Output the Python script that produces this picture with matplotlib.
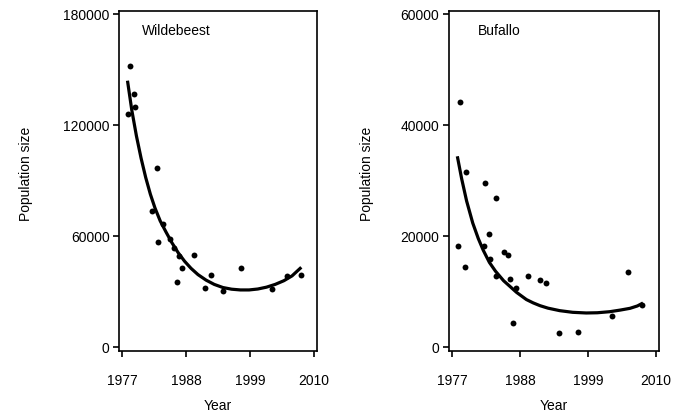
import matplotlib
matplotlib.use("Agg")
import matplotlib.pyplot as plt

plt.rcParams['font.family'] = ['Liberation Sans', 'DejaVu Sans']

# ---- data ----
wb_years = [1977.9, 1978.3, 1978.9, 1979.2, 1982.06, 1982.9, 1983.1, 1983.9, 1985.2,
            1985.95, 1986.4, 1986.8, 1987.2, 1989.3, 1991.2, 1992.2, 1994.3, 1997.4,
            2002.8, 2005.4, 2007.8]
wb_pop = [125900, 151700, 136900, 129500, 73580, 96500, 56480, 66380, 58270,
          53230, 34840, 49230, 42410, 49770, 31920, 38790, 30300, 42740,
          31220, 38410, 38790]
wb_fit_years = [1977.86, 1978.6, 1979.4, 1980.2, 1981.0, 1981.8, 1982.6, 1983.5,
                1984.5, 1985.5, 1986.6, 1987.7, 1988.8, 1990.0, 1991.4, 1992.8,
                1994.3, 1995.8, 1997.3, 1998.8, 2000.3, 2001.8, 2003.3, 2004.8,
                2006.2, 2007.8]
wb_fit_pop = [143900, 128000, 114000, 102000, 91500, 82500, 75000, 68000,
              62000, 56300, 50800, 46200, 42400, 39000, 36000, 33700,
              32000, 31100, 30700, 30700, 31200, 32200, 33700, 35700,
              38300, 42950]

bf_years = [1977.9, 1978.3, 1979.0, 1979.2, 1982.1, 1982.35, 1982.9, 1983.05, 1984.0,
            1984.0, 1985.3, 1986.0, 1986.3, 1986.8, 1987.3, 1989.3, 1991.2, 1992.1,
            1994.3, 1997.3, 2002.8, 2005.4, 2007.7]
bf_pop = [18210, 44180, 14320, 31450, 18210, 29520, 20320, 15810, 26870,
          12800, 17020, 16540, 12150, 4270, 10500, 12800, 12030, 11430,
          2400, 2700, 5590, 13530, 7570]
bf_fit_years = [1977.8, 1978.5, 1979.3, 1980.3, 1981.2, 1982.0, 1983.0, 1984.0,
                1985.3, 1987.4, 1989.0, 1990.1, 1991.2, 1992.5, 1994.4, 1996.5,
                1998.7, 2000.5, 2002.5, 2004.2, 2005.8, 2007.0, 2007.9]
bf_fit_pop = [34340, 30300, 26300, 22300, 19500, 17400, 15200, 13600,
              11900, 9800, 8500, 7900, 7400, 6950, 6500, 6200,
              6080, 6120, 6310, 6600, 6920, 7350, 7880]

x_ticks = [1977, 1988, 1999, 2010]
wb_yticks = [0, 60000, 120000, 180000]
bf_yticks = [0, 20000, 40000, 60000]

W, H = 674, 414
fig = plt.figure(figsize=(W / 100, H / 100), dpi=100)

def px_axes(x0, x1, ytop, ybot):
    return fig.add_axes([x0 / W, (H - ybot) / H, (x1 - x0) / W, (ybot - ytop) / H])

ax1 = px_axes(119.3, 316.7, 12.0, 351.7)
ax2 = px_axes(449.0, 658.7, 12.0, 351.7)

panels = [
    (ax1, wb_years, wb_pop, wb_fit_years, wb_fit_pop, wb_yticks, "Wildebeest", 0.114, 181600, -2170),
    (ax2, bf_years, bf_pop, bf_fit_years, bf_fit_pop, bf_yticks, "Bufallo", 0.14, 60540, -723),
]

for ax, xs, ys, fx, fy, yt, name, tx, ytop, ybot in panels:
    ax.scatter(xs, ys, s=18, color='black', zorder=3, linewidths=0)
    ax.plot(fx, fy, color='black', lw=2.3, solid_capstyle='butt', solid_joinstyle='round', zorder=2)
    ax.set_xlim(1976.45, 2010.45)
    ax.set_ylim(ybot, ytop)
    ax.set_xticks(x_ticks)
    ax.set_xticklabels([str(v) for v in x_ticks])
    ax.set_yticks(yt)
    ax.set_yticklabels([str(v) for v in yt])
    for sp in ax.spines.values():
        sp.set_linewidth(1.2)
        sp.set_color('black')
    ax.tick_params(axis='both', direction='out', length=4, width=1.2, labelsize=10, colors='black')
    ax.tick_params(axis='x', pad=12)
    ax.tick_params(axis='y', pad=3)
    ax.text(tx, 0.944, name, transform=ax.transAxes, ha='left', va='center', fontsize=10)

# axis labels placed at pixel positions
fig.text(26 / W, 1 - 173.5 / H, "Population size", rotation=90, ha='center', va='center', fontsize=10)
fig.text(367 / W, 1 - 173.5 / H, "Population size", rotation=90, ha='center', va='center', fontsize=10)
fig.text(218 / W, 1 - 406.5 / H, "Year", ha='center', va='center', fontsize=10)
fig.text(554 / W, 1 - 406.5 / H, "Year", ha='center', va='center', fontsize=10)

fig.savefig("out.png", dpi=100)
